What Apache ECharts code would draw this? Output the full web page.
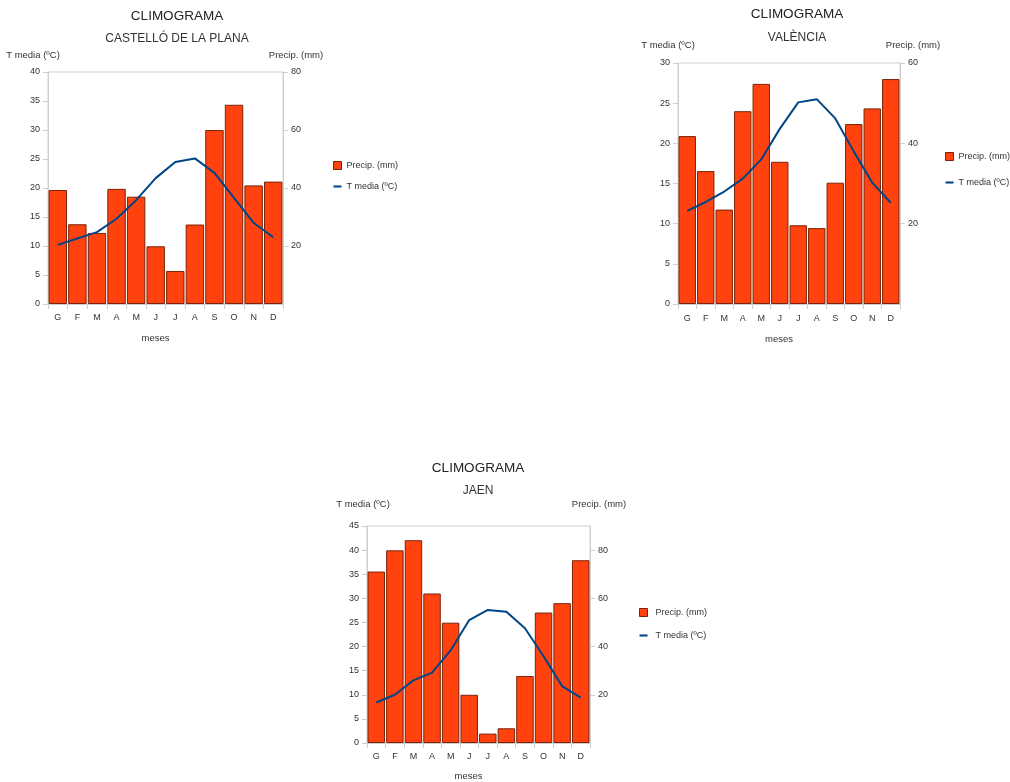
<!DOCTYPE html>
<html>
<head>
<meta charset="utf-8">
<script src="https://cdn.jsdelivr.net/npm/echarts@6/dist/echarts.min.js"></script>
<style>
html,body{margin:0;padding:0;background:#fff;}
#c{width:1010px;height:782px;}
</style>
</head>
<body>
<div id="c"></div>
<script>
const months = ['G','F','M','A','M','J','J','A','S','O','N','D'];

const castelloPrecip = [39.3, 27.5, 24.5, 39.7, 37.0, 19.9, 11.4, 27.4, 60.0, 68.7, 40.9, 42.2];
const castelloTemp   = [10.2, 11.3, 12.4, 14.7, 17.9, 21.7, 24.5, 25.1, 22.6, 18.3, 14.0, 11.5];

const valenciaPrecip = [41.8, 33.1, 23.5, 48.0, 54.8, 35.4, 19.6, 18.9, 30.2, 44.8, 48.7, 56.0];
const valenciaTemp   = [11.6, 12.7, 14.0, 15.6, 18.0, 21.8, 25.1, 25.5, 23.1, 19.0, 15.1, 12.6];

const jaenPrecip = [71.1, 79.9, 84.1, 62.0, 49.9, 20.0, 3.9, 6.1, 27.8, 54.1, 58.0, 75.8];
const jaenTemp   = [8.4, 10.0, 13.0, 14.6, 19.2, 25.5, 27.6, 27.2, 23.8, 18.0, 11.8, 9.4];

const charts = [
  {name:'CASTELLÓ DE LA PLANA', precip:castelloPrecip, temp:castelloTemp,
   tMax:40, tInt:5, pMax:80, pInt:20,
   grid:{left:48, top:72, width:235, height:232}, titleX:172, titleY:4, subGap:10,
   tNamePad:[0,30,0,0], pNamePad:[0,0,0,26], nameGap:12,
   legend:{left:328, top:156, itemGap:12, pad:0}, labelMargin:9, mesesGap:29},
  {name:'VALÈNCIA', precip:valenciaPrecip, temp:valenciaTemp,
   tMax:30, tInt:5, pMax:60, pInt:20,
   grid:{left:678, top:63, width:222, height:241}, titleX:792, titleY:2, subGap:11,
   tNamePad:[0,20,0,0], pNamePad:[0,0,0,26], nameGap:13,
   legend:{left:940, top:147, itemGap:17, pad:0}, labelMargin:10, mesesGap:30},
  {name:'JAEN', precip:jaenPrecip, temp:jaenTemp,
   tMax:45, tInt:5, pMax:90, pInt:20,
   grid:{left:367, top:526, width:223, height:222}, titleX:473, titleY:456, subGap:10,
   tNamePad:[0,8,0,0], pNamePad:[0,0,0,18], nameGap:17,
   legend:{left:634, top:603, itemGap:14, pad:3}, labelMargin:9, mesesGap:28}
];

const txt = '#333';
const lineGray = '#cfcfcf';
const fontFam = '"Liberation Sans", Arial, sans-serif';
const lineIcon = 'path://M0,0H10V2.6H0Z';

const option = {
  animation:false,
  backgroundColor:'#fff',
  textStyle:{fontFamily:fontFam},
  title:[], grid:[], xAxis:[], yAxis:[], series:[], legend:[]
};

charts.forEach((c, i) => {
  option.title.push({
    text:'CLIMOGRAMA', subtext:c.name,
    left:c.titleX, top:c.titleY, textAlign:'center', itemGap:c.subGap,
    textStyle:{fontFamily:fontFam, fontSize:13.5, fontWeight:'normal', color:'#222'},
    subtextStyle:{fontFamily:fontFam, fontSize:12, color:'#333'}
  });
  option.grid.push(Object.assign({show:true, borderColor:lineGray, borderWidth:1, containLabel:false}, c.grid));
  option.xAxis.push({
    type:'category', gridIndex:i, data:months,
    name:'meses', nameLocation:'middle', nameGap:c.mesesGap,
    nameTextStyle:{fontFamily:fontFam, fontSize:9.5, color:txt, padding:[0,20,0,0]},
    axisLine:{lineStyle:{color:lineGray}},
    axisTick:{show:true, length:5, lineStyle:{color:lineGray}},
    axisLabel:{fontFamily:fontFam, fontSize:9, color:txt, margin:c.labelMargin}
  });
  option.yAxis.push({
    type:'value', gridIndex:i, position:'left', min:0, max:c.tMax, interval:c.tInt,
    name:'T media (ºC)', nameLocation:'end', nameGap:c.nameGap,
    nameTextStyle:{fontFamily:fontFam, fontSize:9.5, color:txt, padding:c.tNamePad},
    axisLine:{show:true, lineStyle:{color:lineGray}},
    axisTick:{show:true, length:5, lineStyle:{color:lineGray}},
    splitLine:{show:false},
    axisLabel:{fontFamily:fontFam, fontSize:9, color:txt, margin:8}
  });
  option.yAxis.push({
    type:'value', gridIndex:i, position:'right', min:0, max:c.pMax, interval:c.pInt,
    name:'Precip. (mm)', nameLocation:'end', nameGap:c.nameGap,
    nameTextStyle:{fontFamily:fontFam, fontSize:9.5, color:txt, padding:c.pNamePad},
    axisLine:{show:true, lineStyle:{color:lineGray}},
    axisTick:{show:true, length:5, lineStyle:{color:lineGray}},
    splitLine:{show:false},
    axisLabel:{fontFamily:fontFam, fontSize:9, color:txt, margin:8, showMinLabel:false, showMaxLabel:c.pMax % c.pInt === 0}
  });
  option.series.push({
    name:'Precip. (mm)', type:'bar', xAxisIndex:i, yAxisIndex:i*2+1,
    data:c.precip, barCategoryGap:'6%',
    itemStyle:{color:'#ff420e', borderColor:'#7a2308', borderWidth:1}
  });
  option.series.push({
    name:'T media (ºC)', type:'line', xAxisIndex:i, yAxisIndex:i*2,
    data:c.temp, symbol:'none', z:5,
    lineStyle:{color:'#004586', width:2}, itemStyle:{color:'#004586'}
  });
  option.legend.push({
    orient:'vertical', left:c.legend.left, top:c.legend.top,
    itemWidth:8, itemHeight:8, itemGap:c.legend.itemGap,
    data:[
      {name:'Precip. (mm)', icon:'rect', itemStyle:{color:'#ff420e', borderColor:'#7a2308', borderWidth:1}},
      {name:'T media (ºC)', icon:lineIcon, itemStyle:{color:'#004586', borderWidth:0}}
    ],
    textStyle:{fontFamily:fontFam, fontSize:9, color:txt, padding:[0,0,0,c.legend.pad]},
    selectedMode:false
  });
});

const chart = echarts.init(document.getElementById('c'), null, {renderer:'canvas'});
chart.setOption(option);
</script>
</body>
</html>
